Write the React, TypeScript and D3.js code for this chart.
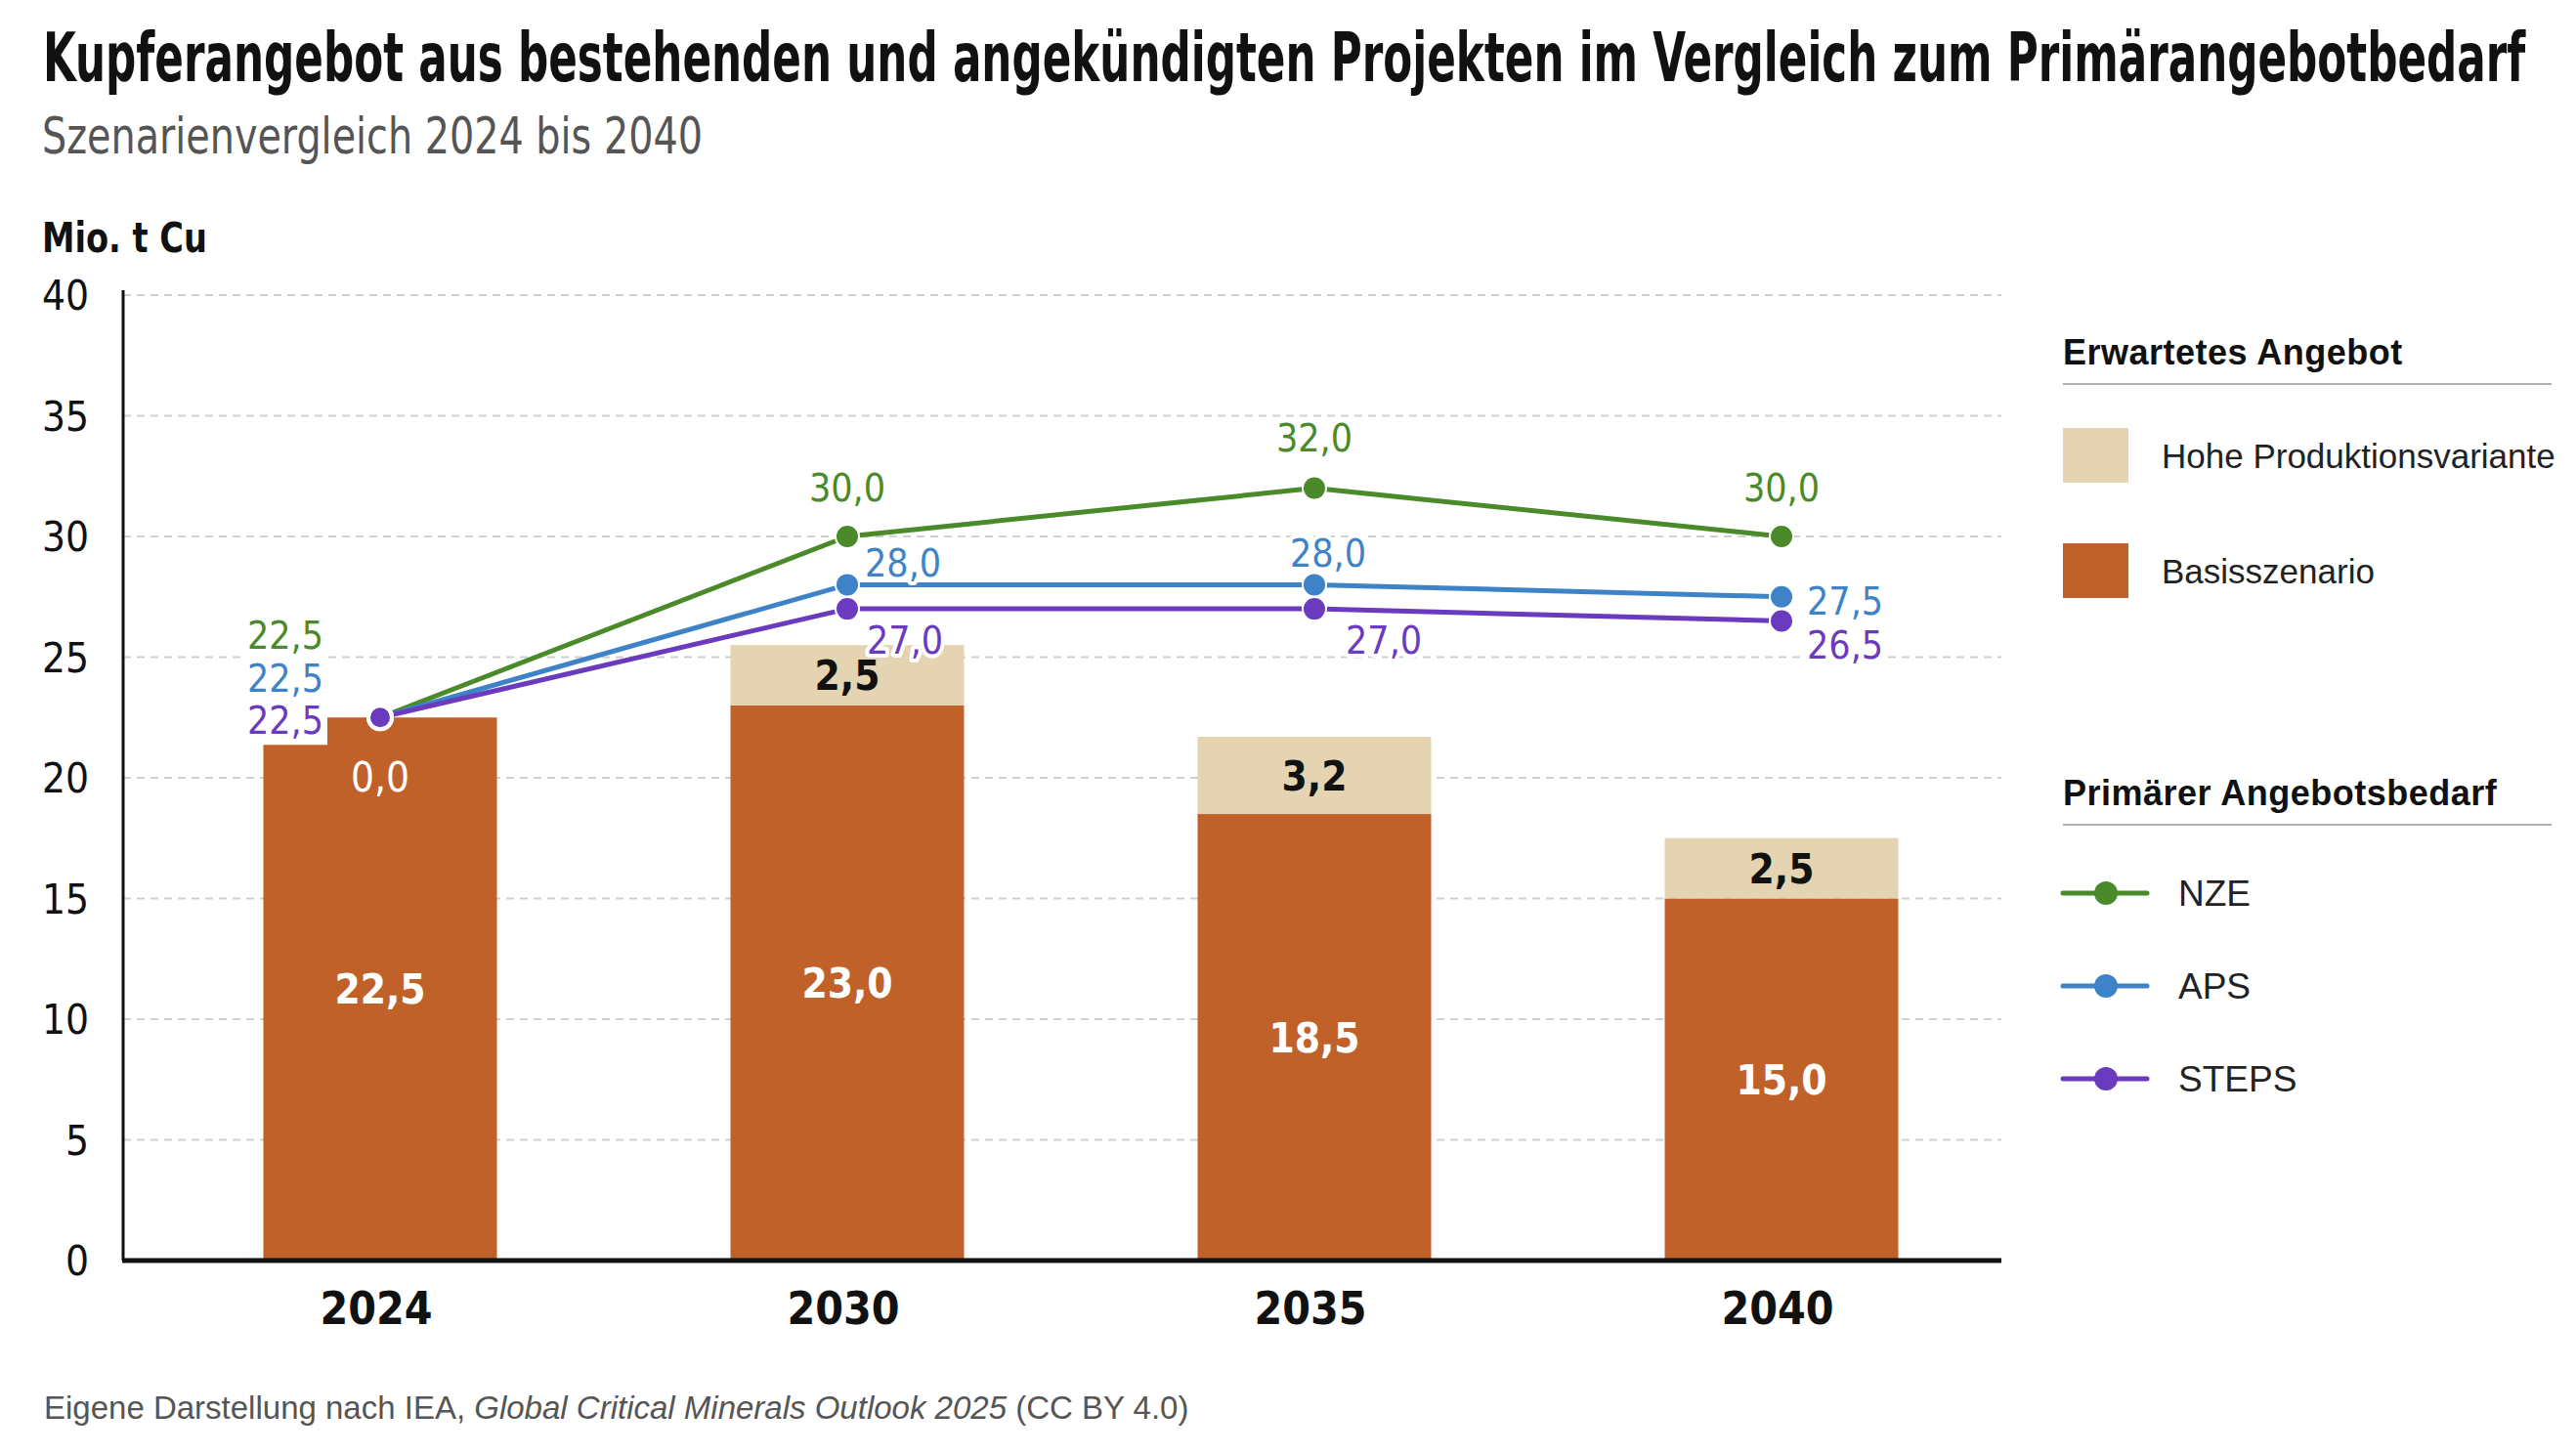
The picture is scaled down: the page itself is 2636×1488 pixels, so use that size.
import { useEffect, useRef } from 'react';
import { select, scaleBand, scaleLinear, line } from 'd3';

const years = ['2024', '2030', '2035', '2040'];
const basisszenario = [22.5, 23.0, 18.5, 15.0];
const hoheVariante = [0.0, 2.5, 3.2, 2.5];
const nzeDemand = [22.5, 30.0, 32.0, 30.0];
const apsDemand = [22.5, 28.0, 28.0, 27.5];
const stepsDemand = [22.5, 27.0, 27.0, 26.5];
const yTickValues = [0, 5, 10, 15, 20, 25, 30, 35, 40];

const W = 2636;
const H = 1488;
const NARROW = "'Liberation Sans Narrow', 'Arial Narrow', 'DejaVu Sans Condensed', sans-serif";
const WIDE = "'Liberation Sans', Arial, Helvetica, sans-serif";

const ORANGE = '#c1612a';
const BEIGE = '#e4d4b1';

const series = [
  { name: 'NZE', values: nzeDemand, color: '#4a8a2a' },
  { name: 'APS', values: apsDemand, color: '#3e83c7' },
  { name: 'STEPS', values: stepsDemand, color: '#6a3bbf' },
];

// label placement per point: [dx, dy, anchor]
const labelPlacement = {
  NZE: [[-58, -70, 'end'], [0, -36, 'middle'], [0, -38, 'middle'], [0, -36, 'middle']],
  APS: [[-58, -26, 'end'], [18, -8, 'start'], [14, -18, 'middle'], [26, 18, 'start']],
  STEPS: [[-58, 17, 'end'], [20, 46, 'start'], [32, 46, 'start'], [26, 39, 'start']],
};

const fmt = (v: number) => v.toFixed(1).replace('.', ',');

// squeeze a text horizontally so it spans exactly `width` px from (x, y)
const fitText = (node: SVGTextElement, x: number, y: number, width: number) => {
  const natural = node.getComputedTextLength();
  const k = natural > 0 ? width / natural : 1;
  select(node)
    .attr('x', 0)
    .attr('y', 0)
    .attr('transform', `translate(${x},${y}) scale(${k},1)`);
};

const App = () => {
  const ref = useRef<SVGSVGElement>(null);

  useEffect(() => {
    const svg = select(ref.current);
    svg.selectAll('*').remove();

    const left = 126;
    const right = 2048;
    const y = scaleLinear().domain([0, 40]).range([1290, 302]);
    const x = scaleBand().domain(years).range([150, 2062]).paddingInner(0.5).paddingOuter(0.25);
    const cx = (yr: string) => (x(yr) as number) + x.bandwidth() / 2;

    svg.append('rect').attr('width', W).attr('height', H).attr('fill', '#fff');

    // titles
    const title = svg.append('text')
      .attr('font-family', NARROW).attr('font-weight', 700).attr('font-size', 70)
      .attr('fill', '#111')
      .text('Kupferangebot aus bestehenden und angekündigten Projekten im Vergleich zum Primärangebotbedarf');
    fitText(title.node() as SVGTextElement, 44, 83, 2541);
    const sub = svg.append('text')
      .attr('font-family', NARROW).attr('font-size', 51)
      .attr('fill', '#555')
      .text('Szenarienvergleich 2024 bis 2040');
    fitText(sub.node() as SVGTextElement, 43, 157, 676);
    const unit = svg.append('text')
      .attr('font-family', NARROW).attr('font-weight', 700).attr('font-size', 42)
      .attr('fill', '#111')
      .text('Mio. t Cu');
    fitText(unit.node() as SVGTextElement, 43, 258, 169);

    // grid
    svg.append('g').selectAll('line')
      .data(yTickValues.filter((d) => d > 0))
      .enter().append('line')
      .attr('x1', left).attr('x2', right)
      .attr('y1', (d) => y(d)).attr('y2', (d) => y(d))
      .attr('stroke', '#cfcfcf').attr('stroke-width', 2)
      .attr('stroke-dasharray', '8,6');

    // y tick labels
    svg.append('g').selectAll('text')
      .data(yTickValues)
      .enter().append('text')
      .attr('x', 91).attr('y', (d) => y(d) + 15)
      .attr('text-anchor', 'end')
      .attr('font-family', NARROW).attr('font-size', 42).attr('fill', '#111')
      .text((d) => d);

    // bars
    const bars = svg.append('g');
    bars.selectAll('rect.base')
      .data(years)
      .enter().append('rect')
      .attr('x', (d) => x(d) as number)
      .attr('width', x.bandwidth())
      .attr('y', (d, i) => y(basisszenario[i]))
      .attr('height', (d, i) => y(0) - y(basisszenario[i]))
      .attr('fill', ORANGE);
    bars.selectAll('rect.high')
      .data(years)
      .enter().append('rect')
      .attr('x', (d) => x(d) as number)
      .attr('width', x.bandwidth())
      .attr('y', (d, i) => y(basisszenario[i] + hoheVariante[i]))
      .attr('height', (d, i) => y(basisszenario[i]) - y(basisszenario[i] + hoheVariante[i]))
      .attr('fill', BEIGE);

    bars.selectAll('text.base')
      .data(years)
      .enter().append('text')
      .attr('x', (d) => cx(d))
      .attr('y', (d, i) => y(basisszenario[i] / 2) + 15)
      .attr('text-anchor', 'middle')
      .attr('font-family', NARROW).attr('font-weight', 700).attr('font-size', 42)
      .attr('fill', '#fff')
      .text((d, i) => fmt(basisszenario[i]));
    bars.selectAll('text.high')
      .data(years)
      .enter().append('text')
      .attr('x', (d) => cx(d))
      .attr('y', (d, i) =>
        hoheVariante[i] > 0
          ? y(basisszenario[i] + hoheVariante[i] / 2) + 15
          : y(basisszenario[i]) + 76)
      .attr('text-anchor', 'middle')
      .attr('font-family', NARROW)
      .attr('font-weight', (d, i) => (hoheVariante[i] > 0 ? 700 : 400))
      .attr('font-size', 42)
      .attr('fill', (d, i) => (hoheVariante[i] > 0 ? '#111' : '#fff'))
      .text((d, i) => fmt(hoheVariante[i]));

    // axes lines
    svg.append('line')
      .attr('x1', left).attr('x2', left).attr('y1', 297).attr('y2', y(0))
      .attr('stroke', '#111').attr('stroke-width', 3);
    svg.append('line')
      .attr('x1', left - 1).attr('x2', right).attr('y1', y(0)).attr('y2', y(0))
      .attr('stroke', '#111').attr('stroke-width', 5);

    // x labels
    svg.append('g').selectAll('text')
      .data(years)
      .enter().append('text')
      .attr('x', (d) => cx(d) - 4).attr('y', 1355)
      .attr('text-anchor', 'middle')
      .attr('font-family', NARROW).attr('font-weight', 700).attr('font-size', 46)
      .attr('fill', '#111')
      .text((d) => d);

    // demand lines
    const lineGen = line<number>()
      .x((d, i) => cx(years[i]))
      .y((d) => y(d));
    const lines = svg.append('g');
    series.forEach((s) => {
      lines.append('path')
        .datum(s.values)
        .attr('d', lineGen)
        .attr('fill', 'none')
        .attr('stroke', s.color)
        .attr('stroke-width', 5)
        .attr('stroke-linejoin', 'round');
    });
    series.forEach((s) => {
      lines.selectAll(`circle.${s.name}`)
        .data(s.values)
        .enter().append('circle')
        .attr('cx', (d, i) => cx(years[i]))
        .attr('cy', (d) => y(d))
        .attr('r', 12)
        .attr('fill', s.color)
        .attr('stroke', '#fff')
        .attr('stroke-width', (d, i) => (i === 0 ? 4 : 2));
    });

    // white backing behind the stacked start labels (like a notch in the bar)
    const startBack = lines.append('g');
    series.forEach((s) => {
      lines.selectAll(`text.${s.name}`)
        .data(s.values)
        .enter().append('text')
        .attr('x', (d, i) => cx(years[i]) + labelPlacement[s.name][i][0])
        .attr('y', (d, i) => y(d) + labelPlacement[s.name][i][1])
        .attr('text-anchor', (d, i) => labelPlacement[s.name][i][2])
        .attr('font-family', NARROW).attr('font-size', 39)
        .attr('fill', s.color)
        .attr('stroke', '#fff').attr('stroke-width', 8).attr('paint-order', 'stroke')
        .attr('stroke-linejoin', 'round')
        .text((d) => fmt(d))
        .each(function (d, i) {
          if (i !== 0) return;
          const b = (this as SVGTextElement).getBBox();
          startBack.append('rect')
            .attr('x', b.x - 6).attr('y', b.y)
            .attr('width', b.width + 10).attr('height', b.height + 2)
            .attr('fill', '#fff');
        });
    });

    // legend
    const lg = svg.append('g');
    const lx = 2111;
    const heading = (txt: string, yy: number) => {
      lg.append('text')
        .attr('x', lx).attr('y', yy)
        .attr('font-family', WIDE).attr('font-weight', 700).attr('font-size', 36)
        .attr('letter-spacing', 0.5)
        .attr('fill', '#111').text(txt);
      lg.append('line')
        .attr('x1', lx).attr('x2', 2611).attr('y1', yy + 20).attr('y2', yy + 20)
        .attr('stroke', '#b0b0b0').attr('stroke-width', 2);
    };
    heading('Erwartetes Angebot', 373);
    [
      { label: 'Hohe Produktionsvariante', color: BEIGE, y: 466 },
      { label: 'Basisszenario', color: ORANGE, y: 584 },
    ].forEach((it) => {
      lg.append('rect')
        .attr('x', lx).attr('y', it.y - 28).attr('width', 67).attr('height', 56)
        .attr('fill', it.color);
      lg.append('text')
        .attr('x', 2212).attr('y', it.y + 13)
        .attr('font-family', WIDE).attr('font-size', 35)
        .attr('fill', '#222').text(it.label);
    });
    heading('Primärer Angebotsbedarf', 824);
    series.forEach((s, i) => {
      const yy = 914 + i * 95;
      lg.append('line')
        .attr('x1', lx).attr('x2', 2197).attr('y1', yy).attr('y2', yy)
        .attr('stroke', s.color).attr('stroke-width', 5).attr('stroke-linecap', 'round');
      lg.append('circle')
        .attr('cx', 2155).attr('cy', yy).attr('r', 12).attr('fill', s.color);
      lg.append('text')
        .attr('x', 2229).attr('y', yy + 13)
        .attr('font-family', WIDE).attr('font-size', 37)
        .attr('fill', '#222').text(s.name);
    });

    // footer
    const ft = svg.append('text')
      .attr('x', 45).attr('y', 1452)
      .attr('font-family', WIDE).attr('font-size', 33).attr('fill', '#555');
    ft.append('tspan').text('Eigene Darstellung nach IEA, ');
    ft.append('tspan').attr('font-style', 'italic').text('Global Critical Minerals Outlook 2025');
    ft.append('tspan').text(' (CC BY 4.0)');
  }, []);

  return (
    <svg
      ref={ref}
      width={W}
      height={H}
      style={{ position: 'absolute', left: 0, top: 0, display: 'block' }}
    />
  );
};

export default App;
